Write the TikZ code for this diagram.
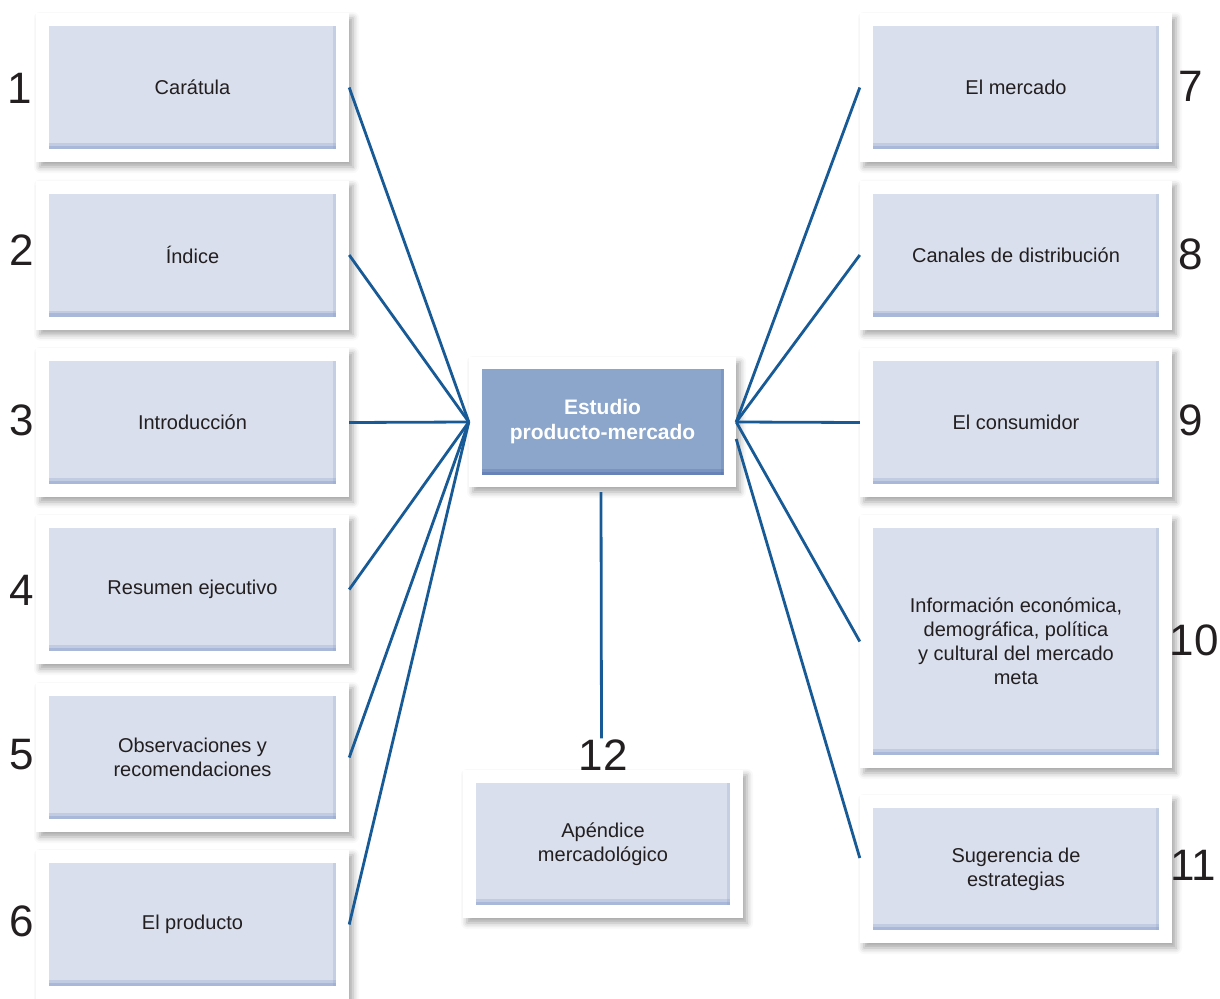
\documentclass[tikz,border=0pt]{standalone}
\usepackage{fontspec}
\setmainfont{Liberation Sans}
\usetikzlibrary{shadows.blur}

\definecolor{linkblue}{RGB}{24,90,150}
\definecolor{panel}{RGB}{217,223,236}
\definecolor{paneledge}{RGB}{140,160,204}
\definecolor{hub}{RGB}{139,165,203}
\definecolor{hubedge}{RGB}{80,110,170}
\definecolor{ink}{RGB}{35,31,32}

\tikzset{
  frame/.style={fill=white, draw=none,
    blur shadow={shadow xshift=4pt, shadow yshift=-5pt,
                 shadow blur radius=6pt, shadow opacity=35}},
  % darker rim along the lower and right edges of a panel
  rim/.style={path picture={
      \fill[#1, opacity=.30]
        ([yshift=6pt]path picture bounding box.south west)
        rectangle (path picture bounding box.south east);
      \fill[#1, opacity=.45]
        ([yshift=3.5pt]path picture bounding box.south west)
        rectangle (path picture bounding box.south east);
      \fill[#1, opacity=.25]
        ([xshift=-3pt]path picture bounding box.north east)
        rectangle (path picture bounding box.south east);}},
  panelbox/.style={fill=panel, text=ink, align=center, inner sep=0pt,
    font=\fontsize{20}{24}\selectfont, rim=paneledge},
  hubbox/.style={fill=hub, text=white, align=center, inner sep=0pt,
    font=\fontsize{21}{25}\selectfont\bfseries, rim=hubedge},
  num/.style={text=ink, inner sep=0pt, font=\fontsize{44}{44}\selectfont},
  link/.style={draw=linkblue, line width=2.8pt},
}

% white frame with a coloured panel inside: name, x, y, frame width, frame height, text
\newcommand\panelpair[6]{%
  \node[frame, minimum width=#4pt, minimum height=#5pt] (o#1) at (#2,#3) {};
  \node[panelbox, minimum width=#4pt-26pt, minimum height=#5pt-26pt] (b#1) at (o#1) {#6};}

\begin{document}
\begin{tikzpicture}[x=1pt, y=-1pt]
  \useasboundingbox (0,0) rectangle (1220,998);
  \clip (0,0) rectangle (1220,998);

  % left column
  \panelpair{1}{192.5}{87.5}{313}{149}{Carátula}
  \panelpair{2}{192.5}{255}{313}{149}{Índice}
  \panelpair{3}{192.5}{422.5}{313}{149}{Introducción}
  \panelpair{4}{192.5}{589.5}{313}{149}{Resumen ejecutivo}
  \panelpair{5}{192.5}{757.5}{313}{149}{Observaciones y\\recomendaciones}
  \panelpair{6}{192.5}{924.5}{313}{149}{El producto}

  % right column
  \panelpair{7}{1016}{87.5}{312}{149}{El mercado}
  \panelpair{8}{1016}{255}{312}{149}{Canales de distribución}
  \panelpair{9}{1016}{422.5}{312}{149}{El consumidor}
  \panelpair{10}{1016}{641.5}{312}{253}{Información económica,\\demográfica, política\\y cultural del mercado\\meta}
  \panelpair{11}{1016}{869}{312}{148}{Sugerencia de\\estrategias}

  % bottom centre
  \panelpair{12}{603}{844}{280}{148}{Apéndice\\mercadológico}

  % central hub
  \node[frame, minimum width=267pt, minimum height=130pt] (oc) at (602.5,422) {};
  \node[hubbox, minimum width=242pt, minimum height=106pt] (bc) at (oc) {Estudio\\producto-mercado};

  % numbers
  \node[num] (n1) at (20,88) {1};
  \node[num] (n2) at (22,250) {2};
  \node[num] (n3) at (22,420) {3};
  \node[num] (n4) at (22,590) {4};
  \node[num] (n5) at (22,755) {5};
  \node[num] (n6) at (22,921) {6};
  \node[num] (n7) at (1191,86) {7};
  \node[num] (n8) at (1191,254) {8};
  \node[num] (n9) at (1191,420) {9};
  \node[num] (n10) at (1194,640) {10};
  \node[num] (n11) at (1193,865) {11};
  \node[num] (n12) at (603,755) {12};

  % connectors
  \foreach \i in {1,...,6}
    \draw[link] (oc.west) -- (o\i.east);
  \foreach \i in {7,8,9,10}
    \draw[link] (oc.east) -- (o\i.west);
  \draw[link] ([yshift=-17pt]oc.east) -- ([yshift=11pt]o11.west);
  \draw[link] ([xshift=-1.5pt,yshift=-5pt]oc.south) -- ([xshift=-1.5pt,yshift=1pt]n12.north);
\end{tikzpicture}
\end{document}
